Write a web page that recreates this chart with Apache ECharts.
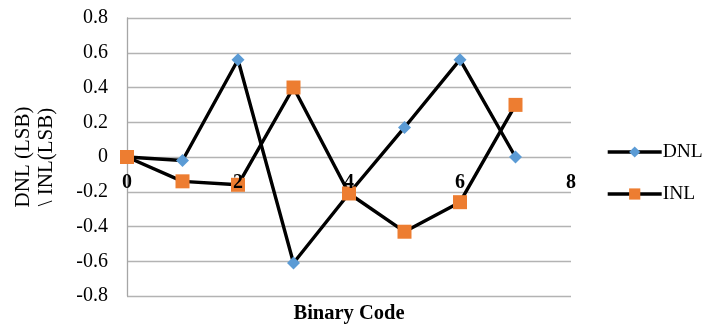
<!DOCTYPE html>
<html><head><meta charset="utf-8">
<script src="https://cdn.jsdelivr.net/npm/echarts@6/dist/echarts.min.js"></script>
<style>html,body{margin:0;padding:0;background:#fff}#c{width:702px;height:325px}</style>
</head><body><div id="c"></div>
<script>
const codes = [0,1,2,3,4,5,6,7];
const dnl = [0,-0.02,0.56,-0.61,-0.21,0.17,0.56,0];
const inl = [0,-0.14,-0.16,0.40,-0.21,-0.43,-0.26,0.30];
const xTicks = [0,2,4,6,8];
const yTicks = [-0.8,-0.6,-0.4,-0.2,0,0.2,0.4,0.6,0.8];
const F = '"Liberation Serif","Times New Roman",serif';
const chart = echarts.init(document.getElementById('c'));
chart.setOption({
  animation:false,
  backgroundColor:'#fff',
  grid:{left:127,right:131,top:18,bottom:29,containLabel:false,outerBoundsMode:'none'},
  xAxis:{type:'value',min:0,max:8,interval:2,z:5,
    name:'Binary Code',nameLocation:'middle',nameGap:7,
    nameTextStyle:{fontFamily:F,fontSize:20.5,fontWeight:'bold',color:'#000'},
    axisLine:{show:false,onZero:false},
    axisTick:{show:false},
    splitLine:{show:false},
    axisLabel:{fontFamily:F,fontSize:20,fontWeight:'bold',color:'#000',margin:-123,
      formatter:v=>xTicks.includes(v)?String(v):''}
  },
  yAxis:{type:'value',min:-0.8,max:0.8,interval:0.2,
    name:'DNL (LSB)\n\\ INL(LSB)',nameLocation:'middle',nameGap:69,nameRotate:90,
    nameTextStyle:{fontFamily:F,fontSize:21,color:'#000',lineHeight:23},
    axisLine:{show:true,onZero:false,lineStyle:{color:'#a6a6a6',width:1.3}},
    axisTick:{show:false},
    splitLine:{lineStyle:{color:'#b3b3b3',width:1.3}},
    axisLabel:{fontFamily:F,fontSize:20,color:'#000',margin:19,
      formatter:v=>{const r=Math.round(v*10)/10;return r===0?'0':String(r);}}
  },
  legend:{orient:'vertical',left:601,top:137,itemGap:22,itemWidth:54,itemHeight:14,
    lineStyle:{width:3.4},
    textStyle:{fontFamily:F,fontSize:19.5,color:'#000',padding:[0,0,0,-4]},
    data:['DNL','INL']},
  series:[
    {name:'DNL',type:'line',data:codes.map((c,i)=>[c,dnl[i]]),
      lineStyle:{color:'#000',width:3.4},itemStyle:{color:'#5b9bd5'},
      symbol:'diamond',symbolSize:13},
    {name:'INL',type:'line',data:codes.map((c,i)=>[c,inl[i]]),
      lineStyle:{color:'#000',width:3.4},itemStyle:{color:'#ed7d31'},
      symbol:'rect',symbolSize:14}
  ]
});
</script></body></html>
